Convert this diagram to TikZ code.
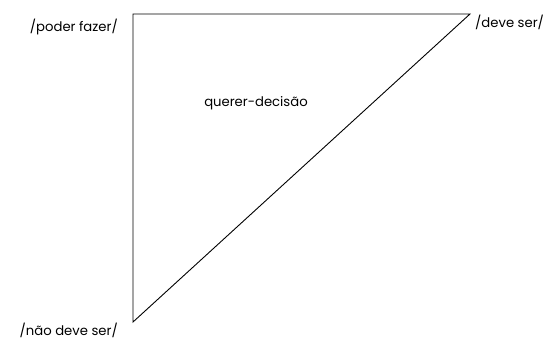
\documentclass[tikz,border=0pt]{standalone}
\usepackage{fontspec}
\setmainfont{Poppins}
\usetikzlibrary{positioning}

\begin{document}
\begin{tikzpicture}[
  x=1pt, y=-1pt,
  every node/.style={font=\fontsize{13.2}{15}\selectfont},
  vertexlabel/.style={inner sep=0pt},
  side/.style={draw, line width=0.9pt, line join=miter}
]
\useasboundingbox (0,0) rectangle (549,350);

% ---- corners of the square ----
\coordinate (poder) at (133,14);
\coordinate (deve) at (470,14);
\coordinate (naodeve) at (133,322);

% ---- the triangle ----
\draw[side] (poder) -- (deve) -- (naodeve) -- cycle;

% ---- corner labels ----
\node[vertexlabel, anchor=east] (lpoder) at (118,27) {/poder fazer/};
\node[vertexlabel, anchor=west] (ldeve) at (475,22) {/deve ser/};
\node[vertexlabel, anchor=east] (lnaodeve) at (118,330) {/não deve ser/};

% ---- inside ----
\node[vertexlabel] (querer) at (256,103) {querer-decisão};

\end{tikzpicture}
\end{document}
